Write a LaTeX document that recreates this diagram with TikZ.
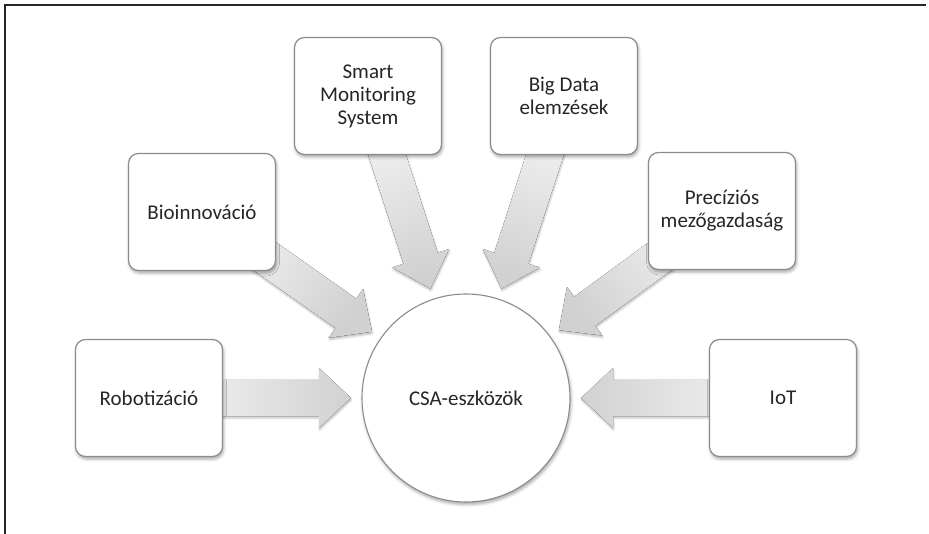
\documentclass[tikz,border=0pt]{standalone}
\usepackage{fontspec}
\setmainfont{Carlito}
\usetikzlibrary{calc,backgrounds,shadows.blur}

\newcommand{\spoke}[2]{%
  \coordinate (t) at ($(0.center)!115pt!(#1.center)$);
  \coordinate (h) at ($(0.center)!147pt!(#1.center)$);
  \fill[spoke, shading angle=#2] (t) -- ($(h)!30pt!90:(#1.center)$) -- ($(h)!18pt!90:(#1.center)$)
    -- ($(#1.center)!18pt!-90:(0.center)$) -- ($(#1.center)!18pt!90:(0.center)$)
    -- ($(h)!18pt!-90:(#1.center)$) -- ($(h)!30pt!-90:(#1.center)$) -- cycle;
}

\begin{document}
\begin{tikzpicture}[x=1pt, y=-1pt,
                    main/.style = {draw=black!45, line width=1.2pt, rounded corners=10pt, fill=white, minimum width=147pt, minimum height=117pt, align=center, text=black!85, font=\fontsize{21}{23}\selectfont, blur shadow={shadow xshift=1pt, shadow yshift=-2.5pt, shadow blur radius=3pt, shadow opacity=35}},
                    hub/.style = {draw=black!45, line width=1.1pt, circle, fill=white, minimum size=208pt, text=black!85, font=\fontsize{21}{23}\selectfont, blur shadow={shadow xshift=1pt, shadow yshift=-2.5pt, shadow blur radius=3pt, shadow opacity=35}},
                    spoke/.style = {top color=gray!6, bottom color=gray!36, blur shadow={shadow xshift=0.5pt, shadow yshift=-2pt, shadow blur radius=2pt, shadow opacity=25}}]
                    \useasboundingbox (0,0) rectangle (929,534);
                    \draw[line width=1.3pt, black!85] (5,534) -- (5,5) -- (926,5);

                    \node[hub] (0) at (466,398) {CSA-eszközök};

                    \node[main] (1) at (149,398) {Robotizáció};
                    \node[main] (2) at (202,212) {Bioinnováció};
                    \node[main] (3) at (368,96) {Smart\\Monitoring\\System};
                    \node[main] (4) at (564,96) {Big Data\\elemzések};
                    \node[main] (5) at (722,211) {Precíziós\\mezőgazdaság};
                    \node[main] (6) at (783,398) {IoT};

                    \begin{scope}[on background layer]
                    \spoke{1}{90}
                    \spoke{2}{55}
                    \spoke{3}{18}
                    \spoke{4}{-18}
                    \spoke{5}{-54}
                    \spoke{6}{270}
                    \end{scope}
                \end{tikzpicture}
\end{document}
